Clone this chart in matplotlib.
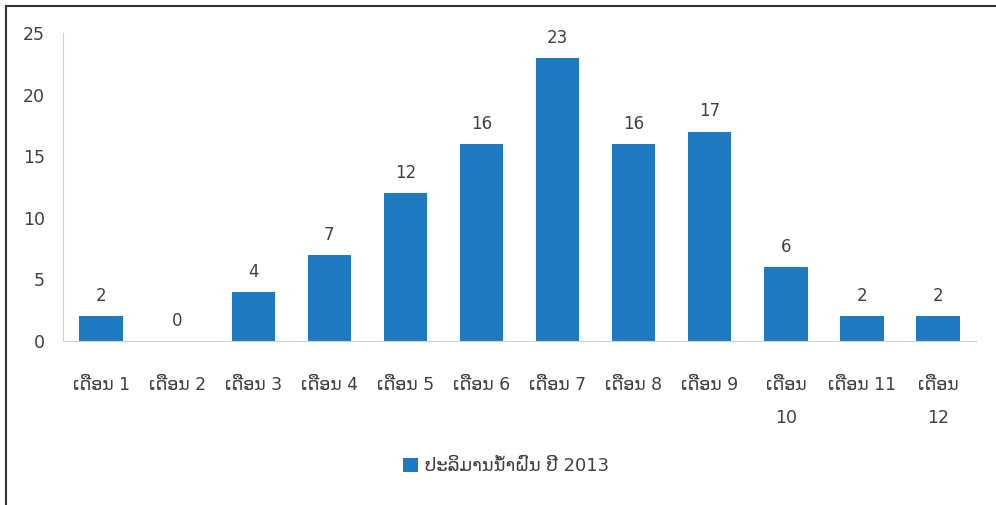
"""Monthly rainfall bar chart for 2013 (Lao labels)."""
import matplotlib

matplotlib.use("Agg")
import matplotlib.pyplot as plt
from matplotlib.lines import Line2D

MONTHS = ["ເດືອນ 1", "ເດືອນ 2", "ເດືອນ 3", "ເດືອນ 4", "ເດືອນ 5", "ເດືອນ 6",
          "ເດືອນ 7", "ເດືອນ 8", "ເດືອນ 9", "ເດືອນ\n10", "ເດືອນ 11", "ເດືອນ\n12"]
RAIN = [2, 0, 4, 7, 12, 16, 23, 16, 17, 6, 2, 2]
Y_TICKS = [0, 5, 10, 15, 20, 25]
SERIES = "ປະລິມານນ້ຳຝົນ ປີ 2013"

BLUE = "#1f7bc1"
TXT = "#404040"

plt.rcParams["font.family"] = ["DejaVu Sans"]

fig = plt.figure(figsize=(9.96, 5.05), dpi=100)
ax = fig.add_axes([0.0633, 0.3248, 0.9167, 0.6099])

x = range(len(MONTHS))
bars = ax.bar(x, RAIN, width=0.57, color=BLUE, label=SERIES)
for xi, v in zip(x, RAIN):
    ax.text(xi, v + 0.9, str(v), ha="center", va="bottom", fontsize=12, color=TXT)

ax.set_xlim(-0.5, len(MONTHS) - 0.5)
ax.set_ylim(0, 25)
ax.set_yticks(Y_TICKS)
ax.set_xticks(list(x))
ax.set_xticklabels(MONTHS, fontsize=12.5, color=TXT, linespacing=2.1, va="top")
ax.tick_params(axis="y", labelsize=12.5, labelcolor=TXT, length=0, pad=13)
ax.tick_params(axis="x", length=0, pad=25)

for s in ("top", "right"):
    ax.spines[s].set_visible(False)
ax.spines["left"].set_color("#d0d0d0")
ax.spines["bottom"].set_color("#d0d0d0")

fig.legend(handles=[bars], labels=[SERIES], loc="center", bbox_to_anchor=(0.508, 0.077),
           frameon=False, fontsize=13, handlelength=0.8, handleheight=0.8,
           handletextpad=0.4, labelcolor=TXT)

# frame lines along top and left edges
fig.add_artist(Line2D([6 / 996, 1], [1 - 6 / 505, 1 - 6 / 505], color="#333333", lw=1.5,
                      transform=fig.transFigure))
fig.add_artist(Line2D([6 / 996, 6 / 996], [0, 1 - 6 / 505], color="#333333", lw=1.5,
                      transform=fig.transFigure))

fig.savefig("out.png", dpi=100, facecolor="white")
